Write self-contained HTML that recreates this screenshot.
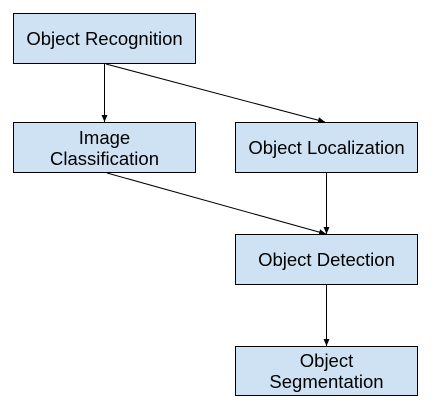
<!DOCTYPE html>
<html><head><style>
html,body{margin:0;padding:0;background:#fff;width:439px;height:419px;overflow:hidden}
text{font-family:"Liberation Sans",Arial,sans-serif;font-size:18.5px;fill:#000}
</style></head><body>
<svg width="439" height="419" viewBox="0 0 439 419" xmlns="http://www.w3.org/2000/svg">
<defs><marker id="a" markerWidth="8" markerHeight="8" refX="7" refY="4" orient="auto" markerUnits="userSpaceOnUse"><path d="M0,1 L7,4 L0,7 z" fill="#000"/></marker></defs>
<g fill="#cfe2f3" stroke="#000" stroke-width="1">
<rect x="13.5" y="13.5" width="182" height="50"/>
<rect x="13.5" y="122.5" width="182" height="50"/>
<rect x="235.5" y="122.5" width="182" height="50"/>
<rect x="235.5" y="234.5" width="182" height="50"/>
<rect x="235.5" y="346.5" width="182" height="49"/>
</g>
<g stroke="#000" stroke-width="1" fill="none" marker-end="url(#a)">
<line x1="104.5" y1="64" x2="104.5" y2="122"/>
<line x1="106" y1="64" x2="325" y2="122"/>
<line x1="107" y1="173" x2="326" y2="234"/>
<line x1="326.5" y1="173" x2="326.5" y2="234"/>
<line x1="326.5" y1="285" x2="326.5" y2="346"/>
</g>
<g text-anchor="middle">
<text x="104.5" y="45">Object Recognition</text>
<text x="104.5" y="144">Image</text>
<text x="104.5" y="165">Classification</text>
<text x="326.5" y="154">Object Localization</text>
<text x="326.5" y="266">Object Detection</text>
<text x="326.5" y="367">Object</text>
<text x="326.5" y="388">Segmentation</text>
</g>
</svg>
</body></html>
